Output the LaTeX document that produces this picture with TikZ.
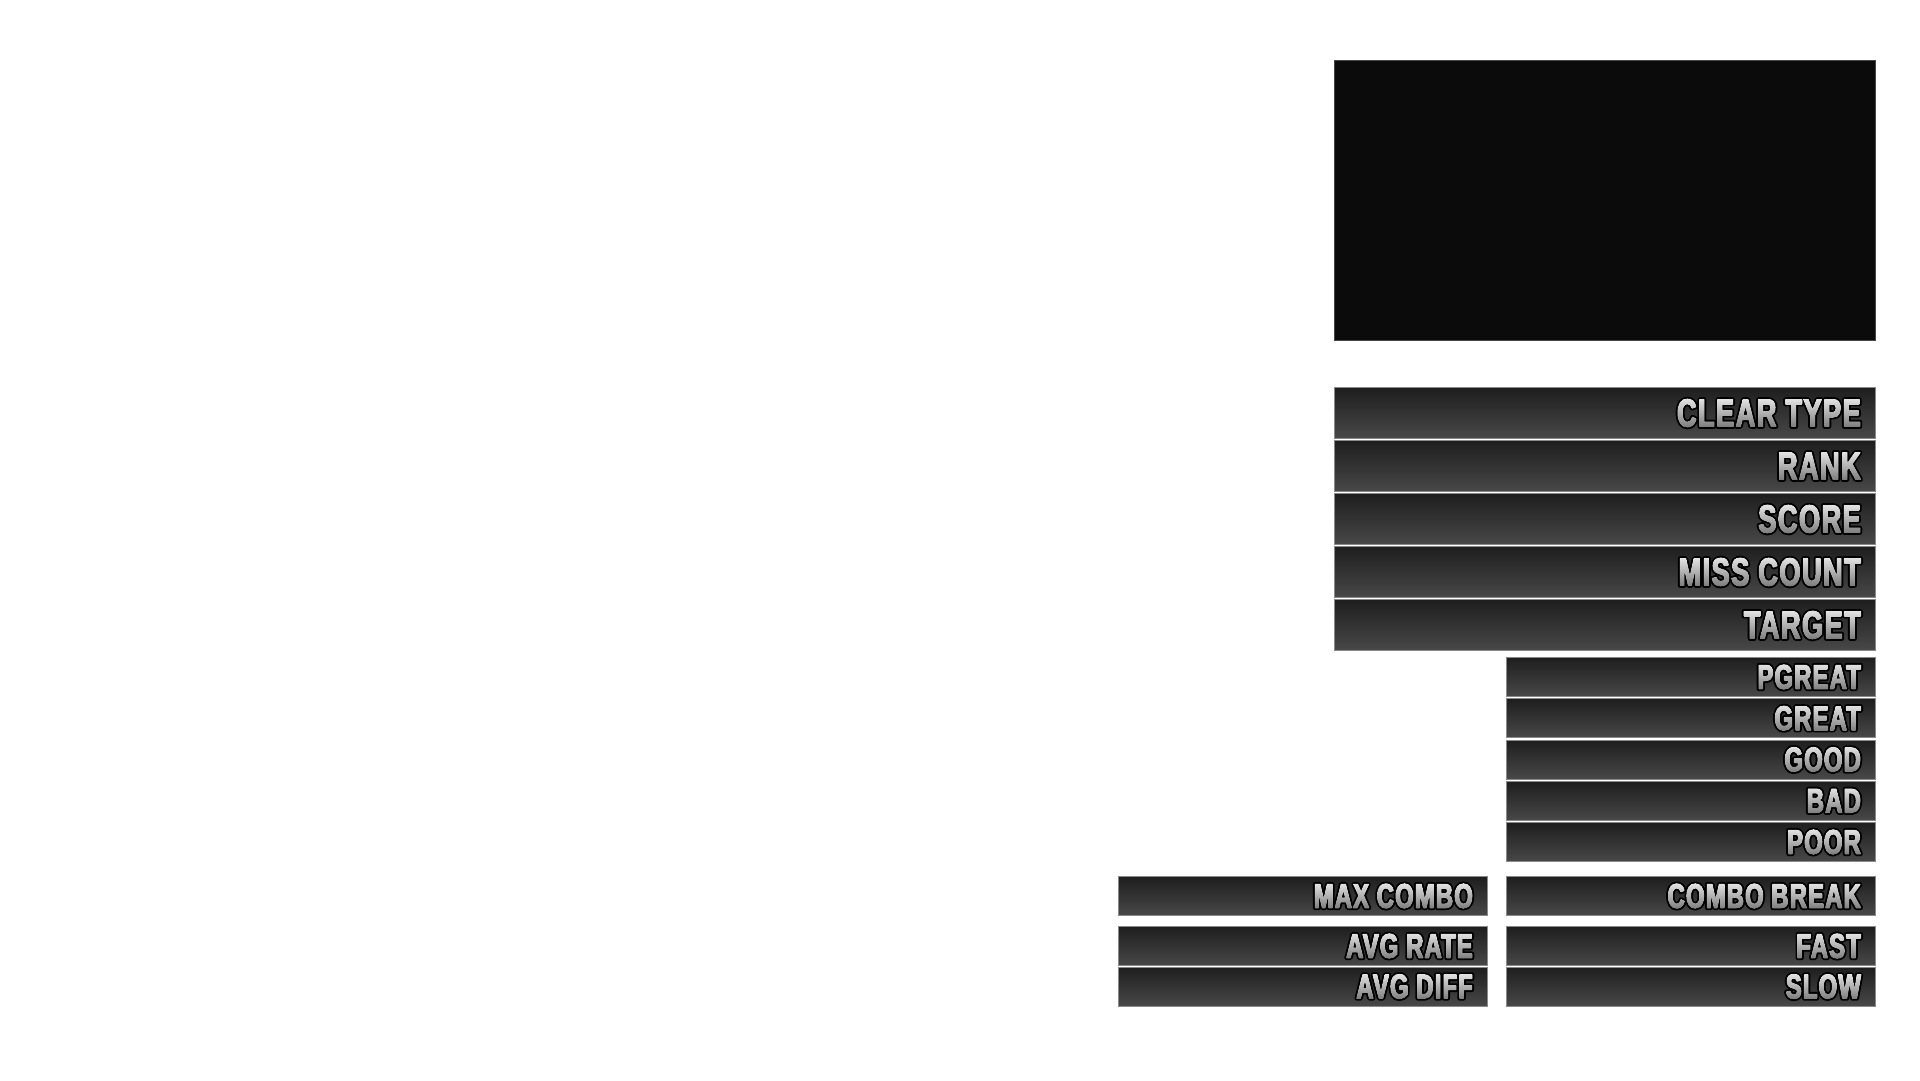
\documentclass[tikz,border=0pt]{standalone}
\usepackage{fontspec}
\usepackage{tikz}
\usetikzlibrary{positioning,shapes,fadings}
\newfontfamily\barfont[FakeStretch=0.7,LetterSpace=3.5]{Liberation Sans}
\newcommand\bigfont{\barfont\bfseries\fontsize{39}{39}\selectfont}
\newcommand\smallfont{\barfont\bfseries\fontsize{34}{34}\selectfont}
\definecolor{barTop}{HTML}{1E1E1E}
\definecolor{barBot}{HTML}{484848}
\definecolor{barLine}{HTML}{8A8A8A}
\definecolor{lblTop}{HTML}{F2F2F2}
\definecolor{lblBot}{HTML}{6E6E6E}
\definecolor{screenFill}{HTML}{0B0B0B}
\newcommand\fatblack[1]{\special{pdf:literal direct 2 Tr 5 w 1 j}#1\special{pdf:literal direct 0 Tr}}
\newcommand\fatmask[1]{\special{pdf:literal direct 2 Tr 1.6 w 1 j}#1\special{pdf:literal direct 0 Tr}}
\newcommand\makefade[3]{%
  \begin{tikzfadingfrompicture}[name=#1]
    \node[inner sep=4pt, text=transparent!0, font=#2] {\fatmask{#3}};
  \end{tikzfadingfrompicture}}
\makefade{cleartype}{\bigfont}{CLEAR TYPE}
\makefade{rank}{\bigfont}{RANK}
\makefade{score}{\bigfont}{SCORE}
\makefade{misscount}{\bigfont}{MISS COUNT}
\makefade{target}{\bigfont}{TARGET}
\makefade{pgreat}{\smallfont}{PGREAT}
\makefade{great}{\smallfont}{GREAT}
\makefade{good}{\smallfont}{GOOD}
\makefade{bad}{\smallfont}{BAD}
\makefade{poor}{\smallfont}{POOR}
\makefade{maxcombo}{\smallfont}{MAX COMBO}
\makefade{combobreak}{\smallfont}{COMBO BREAK}
\makefade{avgrate}{\smallfont}{AVG RATE}
\makefade{avgdiff}{\smallfont}{AVG DIFF}
\makefade{fast}{\smallfont}{FAST}
\makefade{slow}{\smallfont}{SLOW}
\newcommand\barlabel[3]{%
  \node[lbl, font=#2] (#1-t) at ([xshift=-11pt]#1.east) {\fatblack{#3}};
  \fill[lblshade, path fading=#1, fit fading=false, fading transform={shift={(#1-t.center)}}]
    (#1-t.south west) rectangle (#1-t.north east);}
\tikzset{
  bar/.style={draw=barLine, line width=1pt, top color=barTop, bottom color=barBot,
    anchor=north west, inner sep=0pt},
  bigbar/.style={bar, minimum width=541pt, minimum height=51pt},
  smallbar/.style={bar, minimum width=369pt, minimum height=39pt},
  lbl/.style={inner sep=4pt, text=black, anchor=east},
  lblshade/.style={top color=lblTop, bottom color=lblBot}
}
\begin{document}
\begin{tikzpicture}[x=1pt,y=-1pt]
\fill[white] (0,0) rectangle (1920,1080);
\useasboundingbox (0,0) rectangle (1920,1080);
\node[draw=barBot, fill=screenFill, anchor=north west, minimum width=541pt, minimum height=280pt] (screen) at (1334,60) {};
\node[bigbar] (cleartype) at (1334,387) {};
\barlabel{cleartype}{\bigfont}{CLEAR TYPE}
\node[bigbar] (rank) at (1334,440) {};
\barlabel{rank}{\bigfont}{RANK}
\node[bigbar] (score) at (1334,493) {};
\barlabel{score}{\bigfont}{SCORE}
\node[bigbar] (misscount) at (1334,546) {};
\barlabel{misscount}{\bigfont}{MISS COUNT}
\node[bigbar] (target) at (1334,599) {};
\barlabel{target}{\bigfont}{TARGET}
\node[smallbar] (pgreat) at (1506,657) {};
\barlabel{pgreat}{\smallfont}{PGREAT}
\node[smallbar] (great) at (1506,698.25) {};
\barlabel{great}{\smallfont}{GREAT}
\node[smallbar] (good) at (1506,739.5) {};
\barlabel{good}{\smallfont}{GOOD}
\node[smallbar] (bad) at (1506,780.75) {};
\barlabel{bad}{\smallfont}{BAD}
\node[smallbar] (poor) at (1506,822) {};
\barlabel{poor}{\smallfont}{POOR}
\node[smallbar] (maxcombo) at (1118,876) {};
\barlabel{maxcombo}{\smallfont}{MAX COMBO}
\node[smallbar] (combobreak) at (1506,876) {};
\barlabel{combobreak}{\smallfont}{COMBO BREAK}
\node[smallbar] (avgrate) at (1118,926) {};
\barlabel{avgrate}{\smallfont}{AVG RATE}
\node[smallbar] (avgdiff) at (1118,966.5) {};
\barlabel{avgdiff}{\smallfont}{AVG DIFF}
\node[smallbar] (fast) at (1506,926) {};
\barlabel{fast}{\smallfont}{FAST}
\node[smallbar] (slow) at (1506,966.5) {};
\barlabel{slow}{\smallfont}{SLOW}
\end{tikzpicture}
\end{document}
